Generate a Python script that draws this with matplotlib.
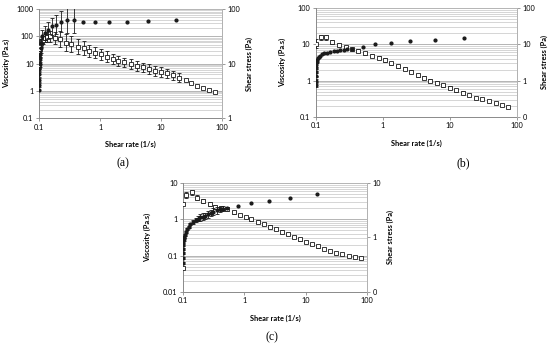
import matplotlib
matplotlib.use('Agg')
import matplotlib.pyplot as plt
from matplotlib.ticker import FixedLocator, FixedFormatter, NullFormatter, LogLocator

plt.rcParams['font.family'] = ['Lato', 'DejaVu Sans']

# ---- panel (a) ----
visc_a_x = [0.1, 0.1, 0.101, 0.102, 0.104, 0.106, 0.109, 0.113, 0.118, 0.125,
            0.135, 0.15, 0.18, 0.22, 0.28, 0.34, 0.44, 0.55, 0.67, 0.83,
            1.03, 1.29, 1.6, 2.0, 2.5, 3.2, 4.0, 5.0, 6.3, 8.0,
            10, 12.6, 15.9, 19.8, 25.4, 30.6, 39, 49, 61, 76]
visc_a_y = [8, 15, 25, 35, 45, 55, 62, 70, 75, 85,
            95, 100, 88, 80, 59, 52, 41, 37, 29, 25,
            21.6, 17.7, 14.5, 12.6, 11, 9.5, 8.3, 7.2, 6.2, 5.4,
            5.0, 4.3, 3.7, 3.0, 2.4, 2.0, 1.5, 1.3, 1.06, 0.92]
visc_a_err = [1.3, 1.3, 1.3, 1.3, 1.3, 1.3, 1.3, 1.3, 1.4, 1.4,
              1.5, 1.6, 1.7, 2.0, 2.1, 2.0, 1.9, 1.8, 1.7, 1.6,
              1.6, 1.6, 1.5, 1.5, 1.5, 1.5, 1.5, 1.5, 1.5, 1.5,
              1.5, 1.45, 1.45, 1.45, 1, 1, 1, 1, 1, 1]
stress_a_x = [0.1, 0.1, 0.1, 0.1, 0.101, 0.102, 0.103, 0.104, 0.106, 0.108,
              0.111, 0.125, 0.142, 0.165, 0.19, 0.227, 0.284, 0.38, 0.53, 0.84,
              1.4, 2.75, 6.2, 17.4]
stress_a_y = [3.3, 4.0, 5.0, 6.3, 8.0, 10, 12.5, 15, 19, 24,
              31.5, 36, 41.7, 48, 51.5, 59, 63, 63, 59, 57.5,
              57.5, 57.5, 60, 64]
stress_a_err = [1.0, 1.1, 1.1, 1.1, 1.1, 1.15, 1.15, 1.15, 1.2, 1.2,
                1.3, 1.35, 1.4, 1.45, 1.5, 1.55, 1.7, 1.7, 1, 1,
                1, 1, 1, 1]

# ---- panel (b) ----
visc_b_x = [0.1, 0.12, 0.143, 0.175, 0.22, 0.28, 0.35, 0.43, 0.54, 0.69,
            0.87, 1.06, 1.3, 1.65, 2.1, 2.6, 3.3, 4.1, 5.1, 6.4,
            7.9, 10, 12.4, 15.5, 19.5, 24.5, 30, 38, 48, 59, 73]
visc_b_y = [10.5, 15.5, 15.5, 11.8, 9.6, 8.4, 7.4, 6.7, 5.6, 4.8,
            4.3, 3.7, 3.0, 2.5, 2.1, 1.74, 1.4, 1.2, 1.0, 0.86,
            0.74, 0.64, 0.54, 0.46, 0.39, 0.34, 0.31, 0.27, 0.24, 0.21, 0.19]
visc_b_err = [1.35, 1.15, 1.15, 1.12, 1.1, 1.1, 1.1, 1.1, 1.1, 1.1,
              1.1, 1.1, 1.1, 1.1, 1.1, 1.1, 1.1, 1.1, 1.1, 1.1,
              1.1, 1.1, 1.1, 1.1, 1, 1, 1, 1, 1, 1, 1]
stress_b_x = [0.1, 0.1, 0.1, 0.1, 0.1, 0.101, 0.102, 0.104, 0.106, 0.11,
              0.116, 0.123, 0.132, 0.146, 0.163, 0.183, 0.205, 0.23, 0.26, 0.29,
              0.345, 0.5, 0.77, 1.33, 2.55, 5.9, 16]
stress_b_y = [0.75, 1.0, 1.3, 1.7, 2.2, 2.7, 3.2, 3.7, 4.1, 4.5,
              4.9, 5.3, 5.6, 5.9, 6.2, 6.5, 6.7, 7.0, 7.2, 7.3,
              7.6, 8.6, 10, 11.1, 12.1, 13.2, 15]
stress_b_err = [1.15, 1.1, 1.05, 1.05, 1.05, 1, 1, 1, 1, 1,
                1, 1, 1, 1, 1, 1, 1, 1, 1, 1,
                1, 1, 1, 1, 1, 1, 1]

# ---- panel (c) ----
visc_c_x = [0.1, 0.1, 0.113, 0.137, 0.169, 0.212, 0.27, 0.336, 0.417, 0.52, 0.67,
            0.83, 1.04, 1.29, 1.64, 2.07, 2.6, 3.3, 4.1, 5.2, 6.4,
            8.1, 10.1, 12.6, 15.9, 19.5, 25, 31, 39, 50, 63, 78]
visc_c_y = [0.045, 2.6, 4.7, 5.5, 3.95, 3.2, 2.6, 2.2, 2.0, 1.9, 1.56,
            1.32, 1.14, 1.0, 0.86, 0.74, 0.63, 0.54, 0.46, 0.39, 0.33,
            0.28, 0.24, 0.21, 0.18, 0.15, 0.13, 0.12, 0.11, 0.1, 0.094, 0.085]
visc_c_err = [1, 1, 1.2, 1.2, 1.15, 1.12, 1.12, 1.12, 1.15, 1.1, 1.1,
              1.08, 1.08, 1.08, 1.08, 1.08, 1.08, 1.08, 1.08, 1.08, 1.08,
              1.08, 1.08, 1.08, 1.08, 1, 1, 1, 1, 1, 1, 1]
stress_c_x = [0.1, 0.1, 0.1, 0.1, 0.1, 0.101, 0.102, 0.104, 0.107, 0.111,
              0.116, 0.123, 0.131, 0.145, 0.159, 0.175, 0.19, 0.21, 0.23, 0.255,
              0.28, 0.31, 0.35, 0.4, 0.45, 0.52, 0.78, 1.29, 2.5, 5.6, 15.4]
stress_c_y = [0.34, 0.42, 0.52, 0.62, 0.72, 0.82, 0.92, 1.02, 1.12, 1.25,
              1.42, 1.58, 1.75, 1.95, 2.1, 2.22, 2.33, 2.42, 2.5, 2.65,
              2.8, 3.0, 3.15, 3.3, 3.4, 3.5, 3.75, 4.3, 4.7, 5.3, 6.3]
stress_c_err = [1.05, 1.05, 1.05, 1.05, 1.05, 1.05, 1.05, 1.05, 1.05, 1.05,
                1.05, 1.05, 1.05, 1.08, 1.08, 1.1, 1.15, 1.15, 1.15, 1.15,
                1.15, 1.15, 1.15, 1.12, 1.1, 1.05, 1, 1, 1, 1, 1]

x_ticks = [0.1, 1, 10, 100]
x_labels = ['0.1', '1', '10', '100']

INK = '#1a1a1a'
AXC = '#8a8a8a'
FS = 5.3


def add_errors(ax, xs, ys, fac):
    # only points that actually have an error bar
    ex, ey, lo, hi = [], [], [], []
    for x, y, f in zip(xs, ys, fac):
        if f > 1:
            ex.append(x)
            ey.append(y)
            lo.append(y - y / f)
            hi.append(y * f - y)
    if ex:
        ax.errorbar(ex, ey, yerr=[lo, hi], fmt='none', ecolor=INK,
                    elinewidth=0.6, capsize=1.6, capthick=0.6, zorder=3)


def draw_panel(rect, vx, vy, verr, sx, sy, serr, lticks, llabels,
               rticks, rlabels, lab_lx, lab_rx):
    ax = fig.add_axes(rect)
    ax.set_xscale('log')
    ax.set_yscale('log')
    ax.set_xlim(0.1, 100)
    ax.set_ylim(lticks[0], lticks[-1])
    ax.xaxis.set_major_locator(FixedLocator(x_ticks))
    ax.xaxis.set_major_formatter(FixedFormatter(x_labels))
    ax.xaxis.set_minor_locator(FixedLocator([]))
    ax.yaxis.set_major_locator(FixedLocator(lticks))
    ax.yaxis.set_major_formatter(FixedFormatter(llabels))
    ax.yaxis.set_minor_locator(LogLocator(base=10, subs=range(2, 10)))
    ax.yaxis.set_minor_formatter(NullFormatter())
    ax.grid(axis='y', which='major', color='#a8a8a8', lw=0.6)
    ax.grid(axis='y', which='minor', color='#cfcfcf', lw=0.6)
    ax.set_axisbelow(True)
    for s in ['top', 'right']:
        ax.spines[s].set_visible(False)
    for s in ['left', 'bottom']:
        ax.spines[s].set_color(AXC)
        ax.spines[s].set_linewidth(0.7)
    ax.tick_params(which='major', length=2, width=0.6, color=AXC,
                   labelsize=FS, pad=2)
    ax.tick_params(which='minor', length=0)

    add_errors(ax, vx, vy, verr)
    ax.plot(vx, vy, ls='none', marker='s', ms=2.8, mfc='white', mec=INK,
            mew=0.6, zorder=4)

    ax2 = ax.twinx()
    ax2.set_yscale('log')
    ax2.set_ylim(rticks[0], rticks[-1])
    ax2.yaxis.set_major_locator(FixedLocator(rticks))
    ax2.yaxis.set_major_formatter(FixedFormatter(rlabels))
    ax2.yaxis.set_minor_locator(FixedLocator([]))
    for s in ['top', 'left', 'bottom']:
        ax2.spines[s].set_visible(False)
    ax2.spines['right'].set_color('#b0b0b0')
    ax2.spines['right'].set_linewidth(0.7)
    ax2.tick_params(length=2, width=0.6, color=AXC, labelsize=FS, pad=2)
    add_errors(ax2, sx, sy, serr)
    ax2.plot(sx, sy, ls='none', marker='o', ms=2.0, color=INK, zorder=5)

    ax.set_xlabel('Shear rate (1/s)', fontsize=FS, fontweight='bold')
    ax.xaxis.set_label_coords(0.5, -0.21)
    ax.set_ylabel('Viscosity (Pa.s)', fontsize=FS, fontweight='bold')
    ax.yaxis.set_label_coords(lab_lx, 0.5)
    ax2.set_ylabel('Shear stress (Pa)', fontsize=FS, fontweight='bold',
                   rotation=90)
    ax2.yaxis.set_label_coords(lab_rx, 0.5)
    return ax


fig = plt.figure(figsize=(5.5, 3.5), dpi=100)

draw_panel([0.071, 0.663, 0.333, 0.311], visc_a_x, visc_a_y, visc_a_err,
           stress_a_x, stress_a_y, stress_a_err,
           [0.1, 1, 10, 100, 1000], ['0.1', '1', '10', '100', '1000'],
           [1, 10, 100], ['1', '10', '100'], -0.158, 1.126)

draw_panel([0.5745, 0.666, 0.3655, 0.311], visc_b_x, visc_b_y, visc_b_err,
           stress_b_x, stress_b_y, stress_b_err,
           [0.1, 1, 10, 100], ['0.1', '1', '10', '100'],
           [0.1, 1, 10, 100], ['0', '1', '10', '100'], -0.148, 1.12)

draw_panel([0.333, 0.166, 0.3345, 0.311], visc_c_x, visc_c_y, visc_c_err,
           stress_c_x, stress_c_y, stress_c_err,
           [0.01, 0.1, 1, 10], ['0.01', '0.1', '1', '10'],
           [0.1, 1, 10], ['0', '1', '10'], -0.174, 1.109)

for txt, px, py in [('(a)', 0.224, 0.534), ('(b)', 0.842, 0.534),
                    ('(c)', 0.495, 0.037)]:
    fig.text(px, py, txt, ha='center', va='center', fontsize=8.5,
             family=['Liberation Serif', 'DejaVu Serif'])

fig.savefig('out.png', dpi=100)
